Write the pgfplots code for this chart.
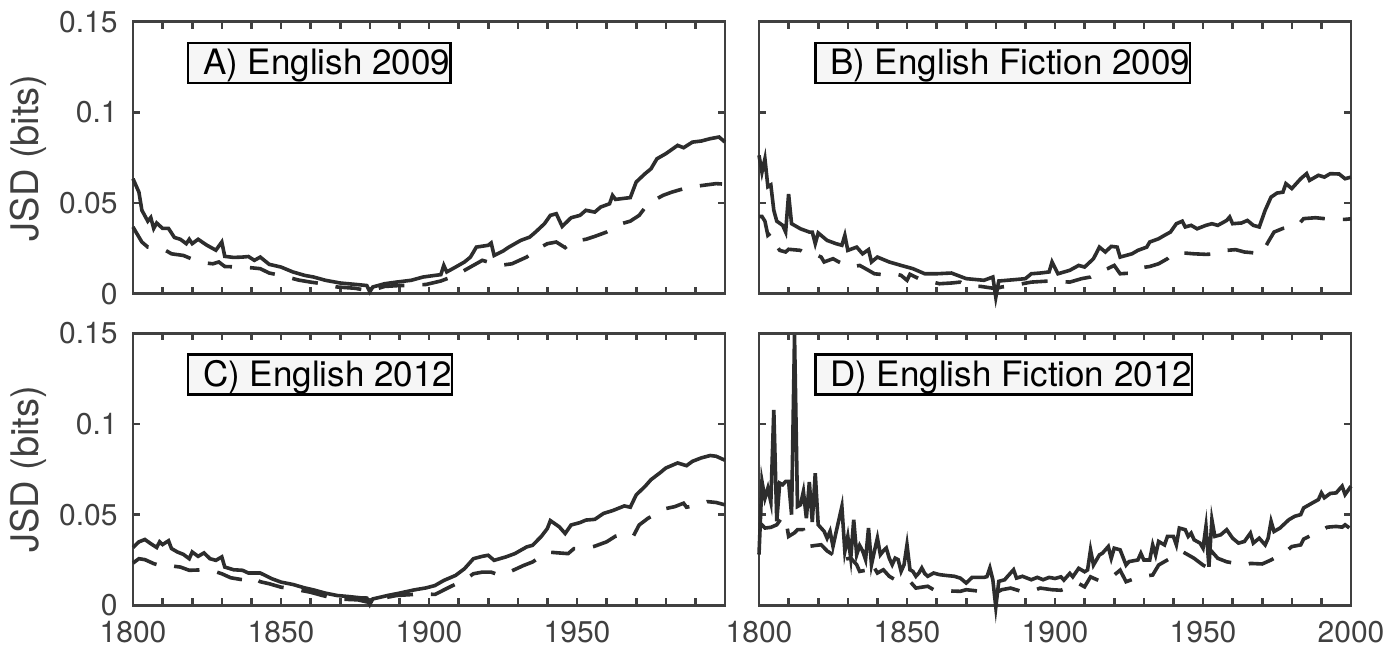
\documentclass[border=0pt]{standalone}
\usepackage{pgfplots}
\pgfplotsset{compat=1.18}
\usepackage{fontspec}
\setmainfont{TeX Gyre Heros}
\definecolor{axc}{RGB}{64,64,64}
\definecolor{lnc}{RGB}{45,45,45}
\definecolor{boxc}{RGB}{246,246,246}
\tikzset{
 tbox/.style={draw=black, line width=1.25pt, fill=boxc, anchor=north west, inner xsep=0pt, inner ysep=1.75pt, text height=14.25pt, text depth=2.25pt, font=\fontsize{17.5}{20}\selectfont, text=black},
}
\pgfplotsset{
 jsd/.style={
  scale only axis, width=296pt, height=136pt,
  xmin=1800, xmax=2000, ymin=0, ymax=0.15,
  xtick={1800,1810,...,2000},
  ytick={0,0.05,0.1,0.15},
  tick align=inside, major tick length=3.5pt,
  axis line style={axc, line width=1.3pt},
  major tick style={axc, line width=1.3pt},
  tick label style={font=\fontsize{15}{18}\selectfont, text=axc, inner sep=0pt},
  xticklabel style={yshift=-8pt},
  yticklabel style={xshift=-7.5pt},
  /pgf/number format/assume math mode=true,
  scaled y ticks=false,
  clip=false,
  xticklabels={},
  yticklabels={},
  anchor=north west,
  every axis y label/.style={at={(axis description cs:-0.1774,0.5)}, rotate=90, anchor=center, font=\fontsize{19}{22}\selectfont, text=axc},
 },
 solidl/.style={lnc, line width=1.8pt, mark=none},
 dashl/.style={lnc, line width=1.8pt, mark=none, dash pattern=on 13pt off 9pt},
}
\begin{document}
\begin{tikzpicture}
\path[use as bounding box] (0,0) rectangle (699pt,-324.5pt);
% A
\begin{axis}[jsd, at={(66.5pt,-10.85pt)}, yticklabels={0,0.05,0.1,0.15}, ylabel={JSD (bits)}]
\addplot[solidl] coordinates {(1800,0.0634) (1802,0.056) (1803,0.046) (1805,0.040) (1806,0.042) (1807,0.036) (1808,0.039) (1810,0.036) (1812,0.036) (1814,0.031) (1816,0.030) (1818,0.0276) (1819,0.030) (1820,0.0276) (1822,0.030) (1825,0.0267) (1828,0.024) (1830,0.0285) (1831,0.0206) (1834,0.020) (1837,0.0202) (1839,0.0205) (1841,0.0184) (1843,0.0202) (1846,0.0162) (1850,0.0147) (1854,0.012) (1858,0.0101) (1861,0.0092) (1865,0.0074) (1870,0.0059) (1876,0.005) (1879,0.0045) (1880,0.001) (1881,0.0037) (1885,0.0055) (1889,0.0064) (1894,0.0074) (1898,0.0092) (1902,0.0101) (1904,0.0105) (1905,0.0156) (1906,0.012) (1909,0.0147) (1912,0.0175) (1914,0.0202) (1916,0.0257) (1920,0.0267) (1921,0.028) (1922,0.0211) (1925,0.0235) (1927,0.0257) (1931,0.0294) (1934,0.0312) (1936,0.034) (1939,0.0386) (1941,0.0432) (1943,0.0441) (1945,0.0371) (1948,0.0419) (1951,0.0432) (1953,0.046) (1956,0.045) (1958,0.0478) (1961,0.0496) (1962,0.0542) (1963,0.052) (1968,0.053) (1970,0.0616) (1973,0.0662) (1975,0.0689) (1977,0.0744) (1980,0.0772) (1984,0.0818) (1986,0.0805) (1989,0.0836) (1992,0.0842) (1995,0.0855) (1998,0.0864) (2000,0.0836)};
\addplot[dashl] coordinates {(1800,0.0368) (1801,0.034) (1803,0.0285) (1805,0.0257) (1808,0.025) (1811,0.0239) (1813,0.022) (1817,0.0211) (1821,0.0184) (1824,0.017) (1827,0.0165) (1829,0.0175) (1831,0.015) (1836,0.0147) (1840,0.0143) (1843,0.0138) (1846,0.0114) (1850,0.0101) (1852,0.0092) (1856,0.0075) (1860,0.0064) (1864,0.0055) (1869,0.0037) (1875,0.003) (1880,0.0015) (1885,0.004) (1890,0.0045) (1894,0.0046) (1899,0.0051) (1904,0.007) (1909,0.0101) (1913,0.0138) (1918,0.0184) (1921,0.017) (1924,0.0156) (1928,0.0165) (1933,0.0202) (1937,0.025) (1940,0.0276) (1943,0.0285) (1946,0.0254) (1949,0.029) (1953,0.030) (1956,0.0316) (1960,0.034) (1965,0.0386) (1968,0.040) (1971,0.0432) (1974,0.0496) (1979,0.0542) (1982,0.056) (1986,0.0579) (1990,0.0592) (1997,0.0607) (1999,0.0605)};
\node[tbox] at (axis description cs:0.0912,0.9265) {\hspace{7.5pt}A) English 2009\hspace{3pt}};
\end{axis}
% B
\begin{axis}[jsd, at={(379.5pt,-10.85pt)}]
\addplot[solidl] coordinates {(1800,0.0763) (1801,0.067) (1802,0.0744) (1803,0.059) (1804,0.060) (1805,0.046) (1806,0.040) (1808,0.0377) (1809,0.034) (1810,0.055) (1811,0.0386) (1814,0.0358) (1817,0.034) (1818,0.034) (1819,0.0276) (1820,0.0335) (1823,0.0294) (1826,0.0276) (1828,0.0267) (1829,0.0322) (1830,0.0239) (1833,0.0257) (1835,0.022) (1837,0.0243) (1838,0.0175) (1840,0.0202) (1844,0.0175) (1848,0.0156) (1852,0.0138) (1856,0.011) (1860,0.011) (1865,0.0114) (1870,0.0083) (1876,0.0074) (1879,0.0092) (1880,-0.002) (1881,0.007) (1886,0.0077) (1890,0.0083) (1892,0.011) (1895,0.0114) (1898,0.012) (1899,0.0175) (1901,0.011) (1905,0.0129) (1908,0.0156) (1910,0.0147) (1913,0.0193) (1915,0.0257) (1917,0.023) (1919,0.0261) (1921,0.0257) (1922,0.0202) (1926,0.022) (1928,0.0239) (1931,0.0257) (1932,0.0285) (1935,0.0303) (1937,0.0322) (1939,0.034) (1941,0.0386) (1943,0.040) (1944,0.0368) (1946,0.0377) (1948,0.0358) (1951,0.0377) (1953,0.0386) (1955,0.0377) (1958,0.0404) (1959,0.0423) (1960,0.0386) (1963,0.039) (1965,0.0404) (1967,0.0377) (1969,0.0368) (1971,0.046) (1973,0.0533) (1975,0.0555) (1977,0.056) (1978,0.0607) (1980,0.058) (1983,0.0634) (1985,0.0662) (1986,0.0625) (1989,0.0653) (1991,0.0643) (1993,0.0662) (1996,0.066) (1998,0.0634) (2000,0.0643)};
\addplot[dashl] coordinates {(1800,0.0426) (1801,0.0426) (1802,0.040) (1803,0.0322) (1804,0.0335) (1805,0.0285) (1807,0.0239) (1809,0.023) (1810,0.0245) (1814,0.0239) (1816,0.022) (1819,0.0217) (1821,0.0202) (1822,0.0175) (1825,0.0193) (1827,0.0175) (1829,0.016) (1831,0.0147) (1834,0.0156) (1836,0.0138) (1839,0.011) (1842,0.0105) (1846,0.011) (1848,0.0101) (1850,0.0074) (1851,0.0107) (1854,0.0083) (1857,0.007) (1861,0.0055) (1865,0.0059) (1868,0.0064) (1870,0.0046) (1875,0.004) (1880,0.0028) (1882,0.0037) (1886,0.0046) (1892,0.0064) (1898,0.007) (1901,0.0068) (1905,0.0064) (1909,0.0083) (1912,0.0092) (1915,0.012) (1918,0.014) (1920,0.0156) (1922,0.011) (1926,0.0114) (1929,0.0143) (1932,0.015) (1935,0.0165) (1938,0.0193) (1940,0.0224) (1944,0.0224) (1947,0.022) (1951,0.0217) (1955,0.022) (1958,0.0239) (1961,0.0243) (1964,0.023) (1968,0.0224) (1970,0.0224) (1972,0.0285) (1974,0.034) (1977,0.036) (1982,0.0377) (1984,0.0414) (1988,0.0419) (1991,0.0414) (1995,0.041) (1998,0.041) (2000,0.0413)};
\node[tbox] at (axis description cs:0.0929,0.9265) {\hspace{7.5pt}B) English Fiction 2009\hspace{3pt}};
\end{axis}
% C
\begin{axis}[jsd, at={(66.5pt,-166.65pt)}, yticklabels={0,0.05,0.1,0.15}, ylabel={JSD (bits)},
  xticklabels={1800,,,,,1850,,,,,1900,,,,,1950,,,,,}]
\addplot[solidl] coordinates {(1800,0.0319) (1802,0.035) (1804,0.0363) (1806,0.034) (1808,0.0319) (1809,0.035) (1810,0.0335) (1812,0.0356) (1813,0.0313) (1815,0.0294) (1817,0.0281) (1819,0.0257) (1820,0.0294) (1822,0.027) (1824,0.0289) (1826,0.0257) (1828,0.0248) (1830,0.0267) (1831,0.0211) (1834,0.0196) (1837,0.0193) (1839,0.0178) (1843,0.0178) (1847,0.0146) (1850,0.0128) (1854,0.0115) (1858,0.0096) (1861,0.0085) (1865,0.0067) (1869,0.0054) (1873,0.0048) (1877,0.0041) (1879,0.004) (1880,0.0005) (1881,0.0035) (1886,0.0054) (1890,0.0067) (1895,0.0085) (1899,0.0096) (1902,0.0109) (1905,0.0137) (1909,0.0165) (1912,0.0202) (1915,0.0257) (1918,0.027) (1920,0.0276) (1922,0.0248) (1926,0.0267) (1929,0.0285) (1933,0.0322) (1935,0.0331) (1938,0.0381) (1940,0.0424) (1941,0.0467) (1944,0.0433) (1946,0.0396) (1948,0.0443) (1951,0.0456) (1953,0.047) (1956,0.0474) (1959,0.0507) (1962,0.0522) (1964,0.0535) (1966,0.0548) (1968,0.0541) (1970,0.0609) (1973,0.0656) (1975,0.0693) (1978,0.073) (1980,0.0757) (1984,0.0785) (1987,0.077) (1989,0.0794) (1992,0.0813) (1995,0.0826) (1997,0.0822) (2000,0.080)};
\addplot[dashl] coordinates {(1800,0.0233) (1802,0.0257) (1804,0.0252) (1807,0.023) (1809,0.022) (1811,0.0225) (1814,0.0215) (1816,0.0211) (1819,0.0193) (1824,0.0196) (1827,0.019) (1830,0.0174) (1833,0.0152) (1837,0.0141) (1840,0.0156) (1843,0.013) (1846,0.0119) (1850,0.010) (1854,0.0091) (1860,0.0072) (1864,0.0054) (1869,0.0035) (1876,0.003) (1880,0.0015) (1883,0.0035) (1889,0.0054) (1898,0.0063) (1902,0.006) (1908,0.0109) (1912,0.014) (1915,0.0174) (1918,0.0183) (1921,0.0183) (1924,0.0165) (1928,0.019) (1932,0.022) (1935,0.0239) (1940,0.0294) (1943,0.029) (1947,0.0285) (1949,0.0313) (1953,0.0313) (1956,0.0326) (1960,0.035) (1963,0.0381) (1966,0.0393) (1969,0.0381) (1971,0.0443) (1974,0.048) (1977,0.0507) (1979,0.053) (1983,0.0544) (1986,0.0563) (1987,0.0541) (1990,0.055) (1994,0.0572) (1997,0.0567) (2000,0.0554)};
\node[tbox] at (axis description cs:0.0912,0.9265) {\hspace{7.5pt}C) English 2012\hspace{3pt}};
\end{axis}
% D
\begin{axis}[jsd, at={(379.5pt,-166.65pt)},
  xticklabels={1800,,,,,1850,,,,,1900,,,,,1950,,,,,2000}]
\addplot[solidl] coordinates {(1800,0.028) (1801,0.0683) (1802,0.059) (1803,0.0646) (1804,0.057) (1805,0.1078) (1806,0.0463) (1807,0.0674) (1808,0.0665) (1809,0.0683) (1810,0.0683) (1811,0.050) (1812,0.149) (1813,0.0545) (1814,0.0554) (1815,0.0628) (1816,0.048) (1817,0.068) (1818,0.046) (1819,0.0729) (1820,0.0444) (1821,0.0426) (1822,0.0408) (1823,0.037) (1824,0.0408) (1825,0.0325) (1826,0.040) (1828,0.0545) (1829,0.0297) (1830,0.038) (1831,0.026) (1832,0.0472) (1833,0.0279) (1834,0.033) (1835,0.030) (1836,0.0252) (1837,0.0426) (1838,0.0224) (1839,0.030) (1840,0.0371) (1841,0.0279) (1842,0.030) (1843,0.0316) (1844,0.026) (1845,0.0224) (1846,0.026) (1847,0.0252) (1848,0.0187) (1849,0.0224) (1850,0.0334) (1851,0.0196) (1852,0.0187) (1853,0.016) (1854,0.0178) (1855,0.0206) (1856,0.0175) (1857,0.016) (1859,0.0178) (1861,0.0169) (1863,0.0165) (1866,0.016) (1868,0.015) (1870,0.0123) (1872,0.0154) (1874,0.0154) (1876,0.0154) (1877,0.0158) (1878,0.0206) (1879,0.0141) (1880,-0.001) (1881,0.0132) (1883,0.0141) (1884,0.016) (1886,0.0196) (1887,0.015) (1889,0.016) (1892,0.0141) (1894,0.0154) (1896,0.0141) (1898,0.0154) (1900,0.0148) (1902,0.0157) (1903,0.0139) (1905,0.0176) (1906,0.0157) (1908,0.0204) (1910,0.0185) (1911,0.0195) (1912,0.0306) (1913,0.0222) (1915,0.0278) (1916,0.0287) (1918,0.0324) (1919,0.0259) (1920,0.0315) (1922,0.0306) (1924,0.0222) (1925,0.0241) (1928,0.025) (1929,0.0287) (1930,0.025) (1932,0.025) (1933,0.0333) (1934,0.0278) (1935,0.0352) (1937,0.0333) (1938,0.038) (1940,0.038) (1941,0.0333) (1942,0.0426) (1944,0.0417) (1945,0.038) (1946,0.0398) (1947,0.0361) (1949,0.0343) (1950,0.0315) (1951,0.0435) (1952,0.0213) (1953,0.0472) (1954,0.038) (1956,0.0389) (1958,0.0417) (1960,0.037) (1962,0.0343) (1964,0.0352) (1966,0.0398) (1967,0.0343) (1969,0.037) (1971,0.0333) (1972,0.037) (1973,0.0463) (1974,0.0407) (1976,0.0426) (1979,0.0472) (1981,0.0491) (1983,0.050) (1984,0.0537) (1987,0.0565) (1989,0.0583) (1990,0.062) (1991,0.0593) (1993,0.0617) (1995,0.062) (1996,0.0639) (1997,0.0657) (1998,0.0611) (2000,0.0657)};
\addplot[dashl] coordinates {(1800,0.0444) (1801,0.0444) (1802,0.0426) (1804,0.043) (1806,0.0444) (1808,0.049) (1809,0.048) (1810,0.038) (1812,0.040) (1813,0.0417) (1815,0.0417) (1816,0.0352) (1817,0.0325) (1819,0.033) (1821,0.0334) (1823,0.030) (1825,0.0279) (1827,0.0288) (1828,0.0252) (1831,0.026) (1833,0.0224) (1834,0.0187) (1837,0.0196) (1838,0.0234) (1840,0.0178) (1842,0.0196) (1844,0.016) (1846,0.0141) (1848,0.0132) (1851,0.0132) (1853,0.0095) (1857,0.0105) (1859,0.0086) (1863,0.008) (1868,0.0077) (1870,0.0086) (1875,0.0077) (1880,0.0068) (1882,0.0086) (1885,0.0095) (1888,0.008) (1892,0.0077) (1895,0.0095) (1899,0.0086) (1902,0.0083) (1905,0.010) (1908,0.012) (1910,0.0102) (1912,0.0157) (1915,0.0135) (1918,0.015) (1920,0.0167) (1922,0.0194) (1924,0.013) (1927,0.0148) (1930,0.016) (1933,0.0167) (1935,0.0222) (1937,0.0241) (1939,0.0259) (1941,0.027) (1943,0.0296) (1945,0.0278) (1947,0.0259) (1950,0.0222) (1952,0.0204) (1953,0.0296) (1955,0.0259) (1958,0.024) (1962,0.0228) (1964,0.0222) (1966,0.0231) (1970,0.0228) (1973,0.025) (1975,0.0269) (1978,0.0296) (1980,0.0324) (1983,0.0333) (1984,0.0365) (1987,0.039) (1990,0.0413) (1992,0.0431) (1995,0.0435) (1997,0.0431) (1998,0.0444) (2000,0.042)};
\node[tbox] at (axis description cs:0.0929,0.9265) {\hspace{7.5pt}D) English Fiction 2012\hspace{3pt}};
\end{axis}
\end{tikzpicture}
\end{document}
